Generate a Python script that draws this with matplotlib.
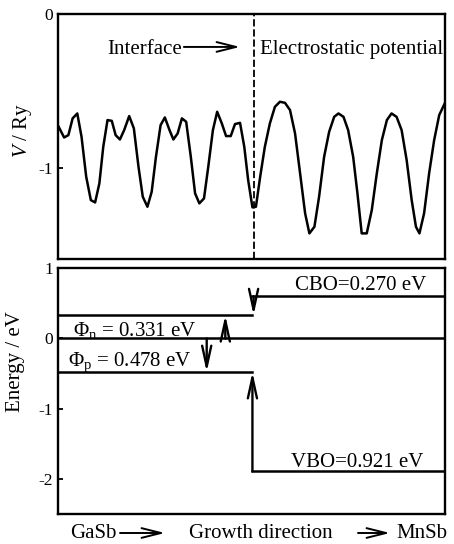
import matplotlib
matplotlib.use("Agg")
import matplotlib.pyplot as plt

plt.rcParams['font.family'] = ['Liberation Serif', 'DejaVu Serif']
plt.rcParams['mathtext.fontset'] = 'custom'
plt.rcParams['mathtext.rm'] = 'Liberation Serif'
plt.rcParams['mathtext.it'] = 'Liberation Serif:italic'

# electrostatic potential along growth direction (position 0..1, V in Ry)
pos = [0.002, 0.017, 0.028, 0.039, 0.051, 0.062, 0.074, 0.086, 0.097, 0.108,
       0.118, 0.129, 0.140, 0.150, 0.161, 0.172, 0.185, 0.197, 0.209, 0.220,
       0.232, 0.243, 0.254, 0.266, 0.277, 0.289, 0.299, 0.310, 0.321, 0.332,
       0.344, 0.355, 0.366, 0.378, 0.389, 0.401, 0.412, 0.424, 0.435, 0.447,
       0.458, 0.471, 0.482, 0.492, 0.503, 0.512, 0.523, 0.535, 0.548, 0.561,
       0.574, 0.587, 0.600, 0.613, 0.626, 0.639, 0.650, 0.663, 0.675, 0.688,
       0.701, 0.714, 0.725, 0.738, 0.750, 0.763, 0.774, 0.785, 0.798, 0.811,
       0.824, 0.837, 0.850, 0.862, 0.875, 0.888, 0.901, 0.914, 0.925, 0.934,
       0.946, 0.959, 0.972, 0.985, 1.000]
pot = [-0.727, -0.801, -0.786, -0.677, -0.645, -0.797, -1.056, -1.208, -1.223, -1.099,
       -0.862, -0.688, -0.693, -0.786, -0.814, -0.753, -0.662, -0.742, -0.992, -1.186,
       -1.251, -1.154, -0.927, -0.721, -0.671, -0.753, -0.814, -0.775, -0.677, -0.699,
       -0.927, -1.164, -1.229, -1.197, -0.992, -0.753, -0.634, -0.710, -0.792, -0.792,
       -0.714, -0.706, -0.862, -1.078, -1.255, -1.251, -1.056, -0.862, -0.710, -0.602,
       -0.569, -0.576, -0.623, -0.775, -1.034, -1.294, -1.424, -1.381, -1.186, -0.927,
       -0.764, -0.667, -0.645, -0.667, -0.753, -0.927, -1.164, -1.424, -1.424, -1.273,
       -1.034, -0.818, -0.688, -0.645, -0.667, -0.753, -0.948, -1.208, -1.381, -1.424,
       -1.294, -1.034, -0.818, -0.656, -0.576]

interface = 0.503
# band levels (eV)
cb_gasb = 0.331
cb_mnsb = 0.601
vb_gasb = -0.478
vb_mnsb = -1.89
fermi = 0.0

FS = 15
LW = 1.8

fig = plt.figure(figsize=(4.54, 5.44), dpi=100)
ax1 = fig.add_axes([0.1267, 0.524, 0.8535, 0.450])
ax2 = fig.add_axes([0.1267, 0.055, 0.8535, 0.452])

for ax in (ax1, ax2):
    for sp in ax.spines.values():
        sp.set_linewidth(1.7)
    ax.set_xlim(0, 1)
    ax.set_xticks([])
    ax.tick_params(axis='y', direction='in', length=3.5, width=1.3,
                   labelsize=12.5, pad=3)

# top panel: potential
ax1.plot(pos, pot, color='k', lw=LW)
ax1.axvline(interface + 0.004, color='k', lw=1.3, dashes=(4, 1.6))
ax1.set_ylim(-1.59, 0)
ax1.set_yticks([0, -1])
ax1.set_yticklabels(['0', '-1'])
ax1.text(0.226, -0.26, 'Interface', ha='center', va='baseline', fontsize=FS)
ax1.annotate('', xy=(0.471, -0.213), xytext=(0.326, -0.213),
             arrowprops=dict(arrowstyle='->,head_length=1.4,head_width=0.35',
                             lw=1.4, mutation_scale=10, shrinkA=0, shrinkB=0))
ax1.text(0.523, -0.26, 'Electrostatic potential', ha='left', va='baseline',
         fontsize=FS)

# bottom panel: band alignment
ax2.plot([0, 1], [fermi, fermi], color='k', lw=LW)
ax2.plot([0, interface], [cb_gasb, cb_gasb], color='k', lw=LW)
ax2.plot([interface, 1], [cb_mnsb, cb_mnsb], color='k', lw=LW)
ax2.plot([0, interface], [vb_gasb, vb_gasb], color='k', lw=LW)
ax2.plot([interface, 1], [vb_mnsb, vb_mnsb], color='k', lw=LW)

arrow_kw = dict(arrowstyle='->,head_length=1.5,head_width=0.33', lw=1.7,
                mutation_scale=10, shrinkA=0, shrinkB=0)
ax2.annotate('', xy=(0.385, vb_gasb), xytext=(0.385, fermi), arrowprops=arrow_kw)
ax2.annotate('', xy=(0.433, cb_gasb), xytext=(0.433, fermi), arrowprops=arrow_kw)
ax2.annotate('', xy=(interface + 0.003, cb_gasb), xytext=(interface + 0.003, cb_mnsb),
             arrowprops=arrow_kw)
ax2.annotate('', xy=(interface, vb_gasb), xytext=(interface, vb_mnsb),
             arrowprops=arrow_kw)

ax2.text(0.951, 0.688, 'CBO=0.270 eV', ha='right', va='baseline', fontsize=FS)
ax2.text(0.039, 0.038, r'$\Phi_{\rm n}$ = 0.331 eV', ha='left', va='baseline',
         fontsize=FS)
ax2.text(0.027, -0.388, r'$\Phi_{\rm p}$ = 0.478 eV', ha='left', va='baseline',
         fontsize=FS)
ax2.text(0.602, -1.835, 'VBO=0.921 eV', ha='left', va='baseline', fontsize=FS)

ax2.set_ylim(-2.5, 1)
ax2.set_yticks([1, 0, -1, -2])
ax2.set_yticklabels(['1', '0', '-1', '-2'])

# axis labels
fig.text(23 / 454, 1 - 130 / 544, r'$V$ / Ry', rotation=90, ha='center',
         va='center', fontsize=FS)
fig.text(16 / 454, 1 - 362 / 544, 'Energy / eV', rotation=90, ha='center',
         va='center', fontsize=FS)

# growth direction footer
yb = 1 - 538.5 / 544
ya = 1 - 533 / 544
fig.text(70 / 454, yb, 'GaSb', ha='left', va='baseline', fontsize=FS)
fig.text(261 / 454, yb, 'Growth direction', ha='center', va='baseline', fontsize=FS)
fig.text(447 / 454, yb, 'MnSb', ha='right', va='baseline', fontsize=FS)
for x0, x1 in [(120, 165), (358, 390)]:
    fig.add_artist(matplotlib.patches.FancyArrowPatch(
        (x0 / 454, ya), (x1 / 454, ya), transform=fig.transFigure,
        arrowstyle='->,head_length=1.4,head_width=0.35', lw=1.4,
        mutation_scale=10, shrinkA=0, shrinkB=0, color='k'))

fig.savefig('out.png', dpi=100)
